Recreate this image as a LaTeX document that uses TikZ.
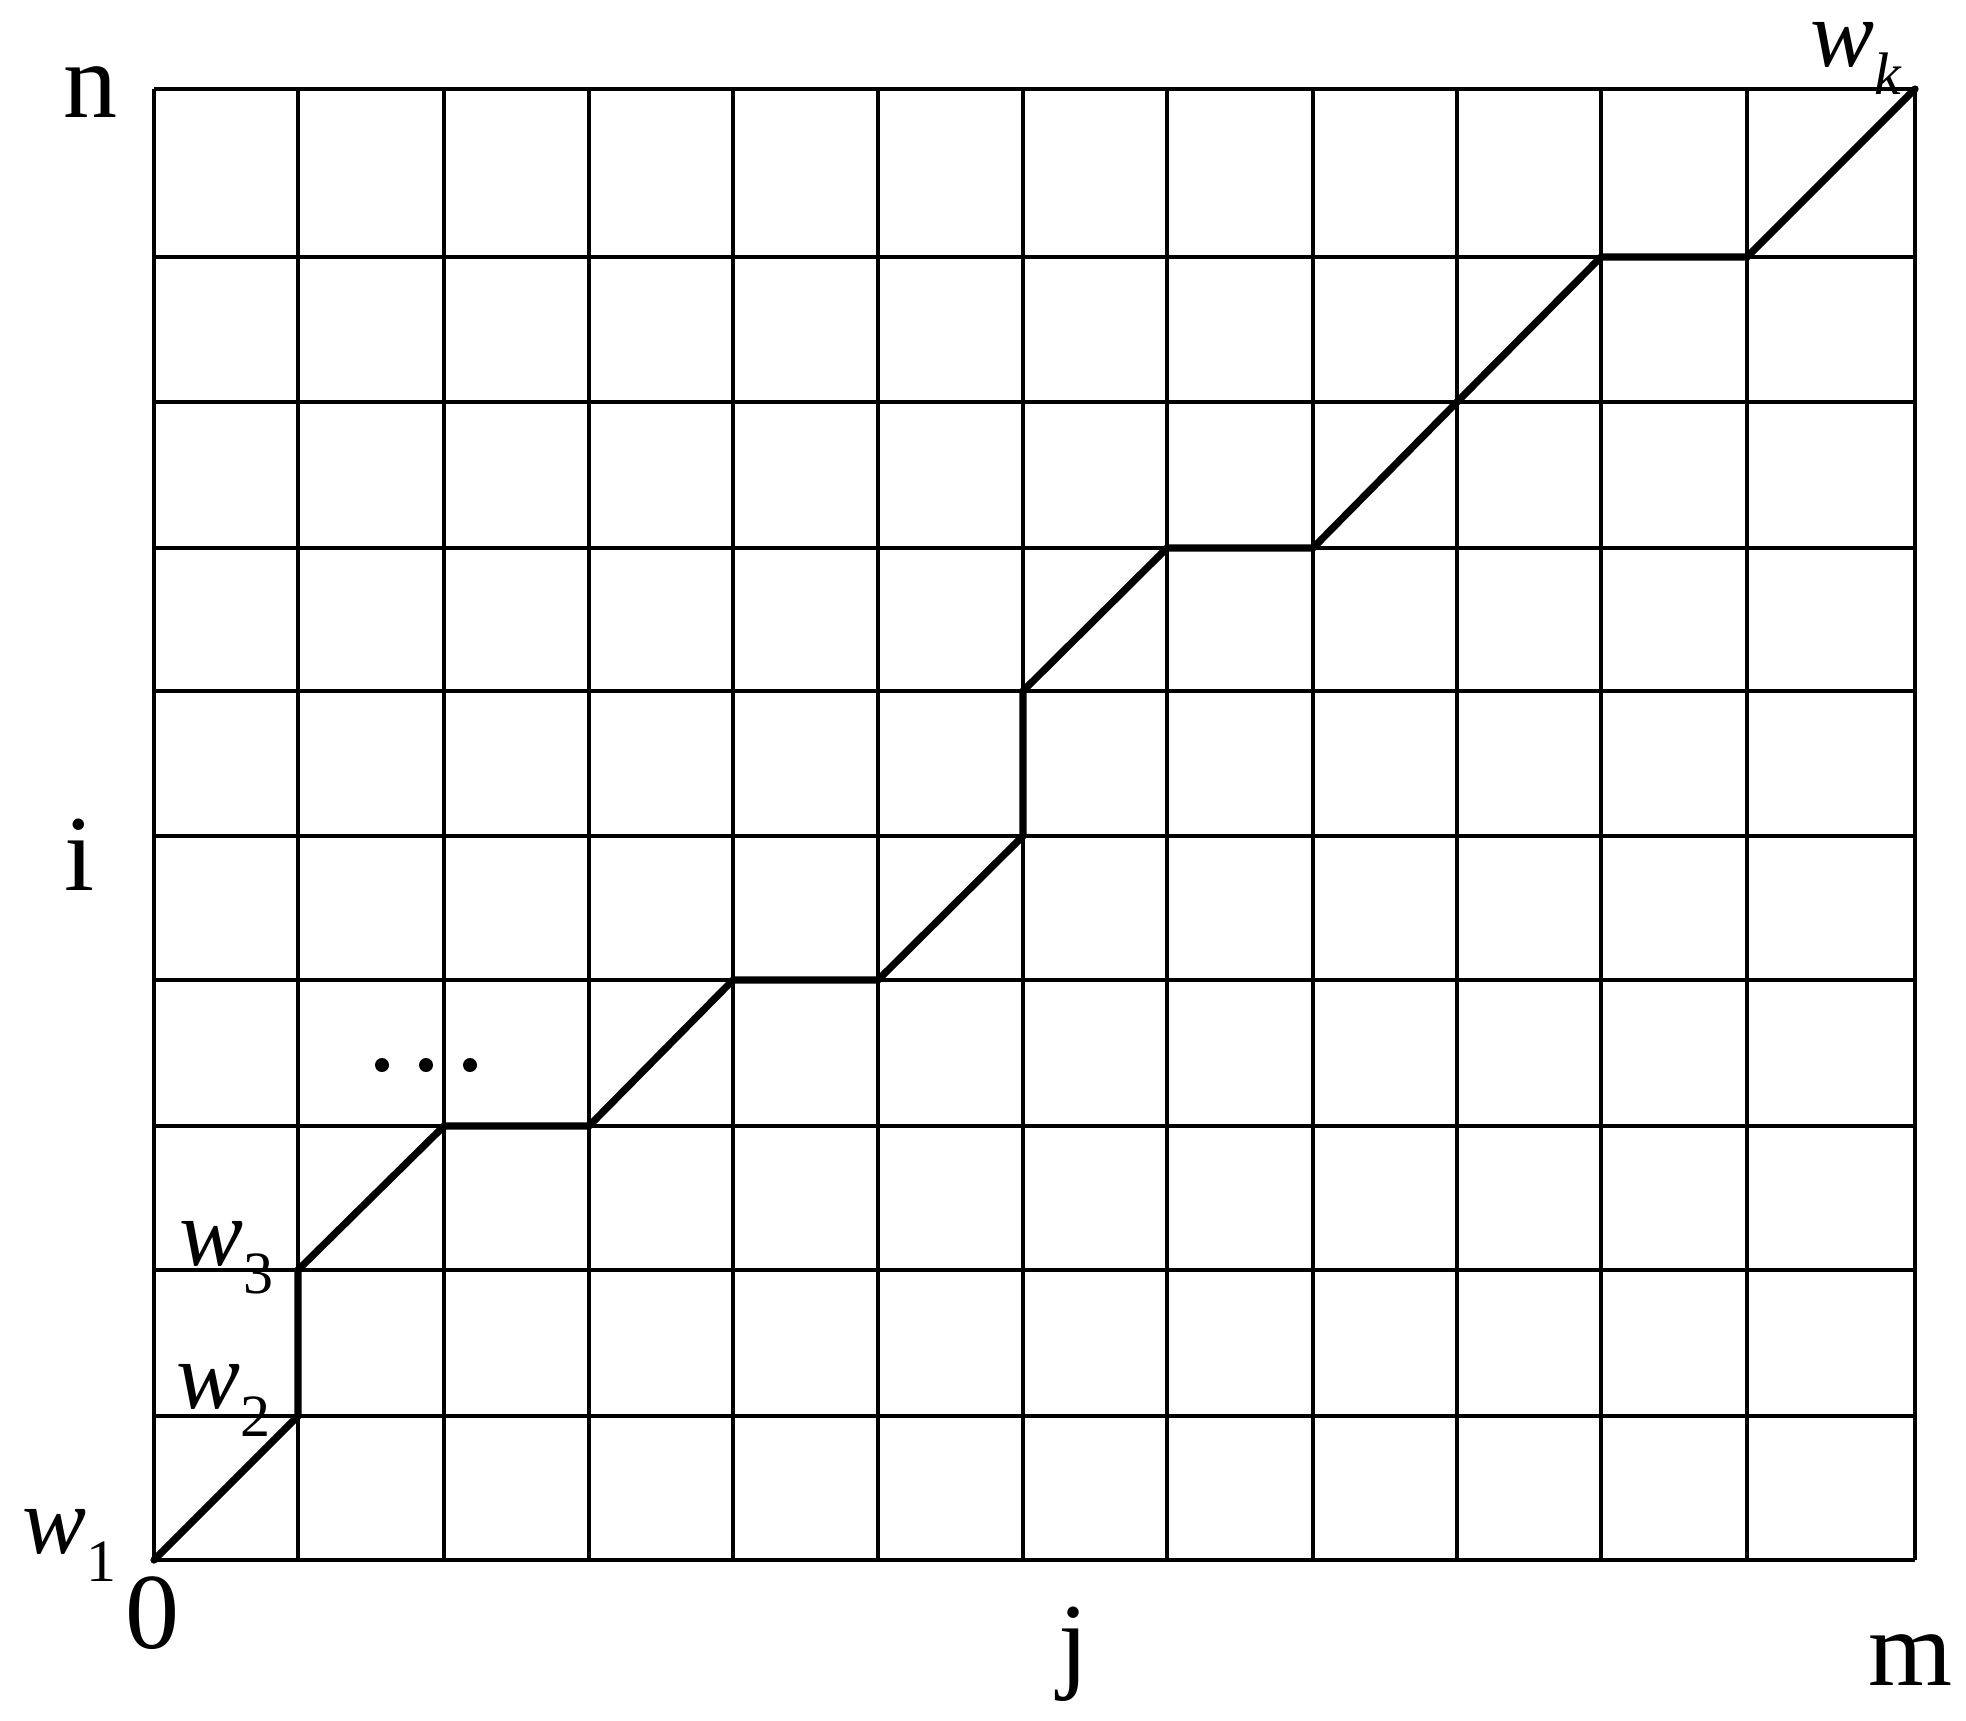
\documentclass[tikz,border=0pt]{standalone}
\usepackage{fontspec}
\setmainfont{Liberation Serif}
\newcommand\wsub[2]{\textit{w}\raisebox{-0.3em}{\fontsize{30}{30}\selectfont #1#2}}
\tikzset{
  gridline/.style={line width=1.6pt,black},
  warppath/.style={line width=3.6pt,black,line join=round,line cap=round},
  axislabel/.style={font=\fontsize{54}{54}\selectfont,inner sep=0pt,anchor=base},
  wlabel/.style={font=\fontsize{48}{48}\selectfont,inner sep=0pt,anchor=base west,text height=0.5em},
  dotmark/.style={circle,fill=black,inner sep=0pt,minimum size=7pt}
}
\begin{document}
\begin{tikzpicture}[x=0.5pt,y=-0.5pt]
\useasboundingbox (0,0) rectangle (1966,1720);
% grid
\foreach \gx in {154,298,444,589,733,878,1023,1167,1313,1457,1601,1747,1915}
  \draw[gridline] (\gx,89) -- (\gx,1560);
\foreach \gy in {89,257,402,548,691,836,980,1126,1270,1416,1560}
  \draw[gridline] (154,\gy) -- (1915,\gy);
% path vertices
\coordinate (p1) at (154,1560);
\coordinate (p2) at (298,1416);
\coordinate (p3) at (298,1270);
\coordinate (p4) at (444,1126);
\coordinate (p5) at (589,1126);
\coordinate (p6) at (733,980);
\coordinate (p7) at (878,980);
\coordinate (p8) at (1023,836);
\coordinate (p9) at (1023,691);
\coordinate (p10) at (1167,548);
\coordinate (p11) at (1313,548);
\coordinate (p12) at (1457,402);
\coordinate (p13) at (1601,257);
\coordinate (p14) at (1747,257);
\coordinate (p15) at (1915,89);
\draw[warppath] (p1) -- (p2) -- (p3) -- (p4) -- (p5) -- (p6) -- (p7) -- (p8) -- (p9) -- (p10) -- (p11) -- (p12) -- (p13) -- (p14) -- (p15);
% axis labels
\node[axislabel] (ln) at (90,117) {n};
\node[axislabel] (li) at (80,890) {i};
\node[axislabel] (l0) at (152,1648) {0};
\node[axislabel] (lj) at (1073,1678) {j};
\node[axislabel] (lm) at (1910,1685) {m};
% w labels
\node[wlabel] (w1) at (22,1553) {\wsub{}{1}};
\node[wlabel] (w2) at (176,1408) {\wsub{}{2}};
\node[wlabel] (w3) at (179,1265) {\wsub{}{3}};
\node[wlabel] (wk) at (1810,66) {\wsub{\itshape}{k}};
% dots
\node[dotmark] (d1) at (382,1065) {};
\node[dotmark] (d2) at (426,1065) {};
\node[dotmark] (d3) at (470,1065) {};
\end{tikzpicture}
\end{document}
